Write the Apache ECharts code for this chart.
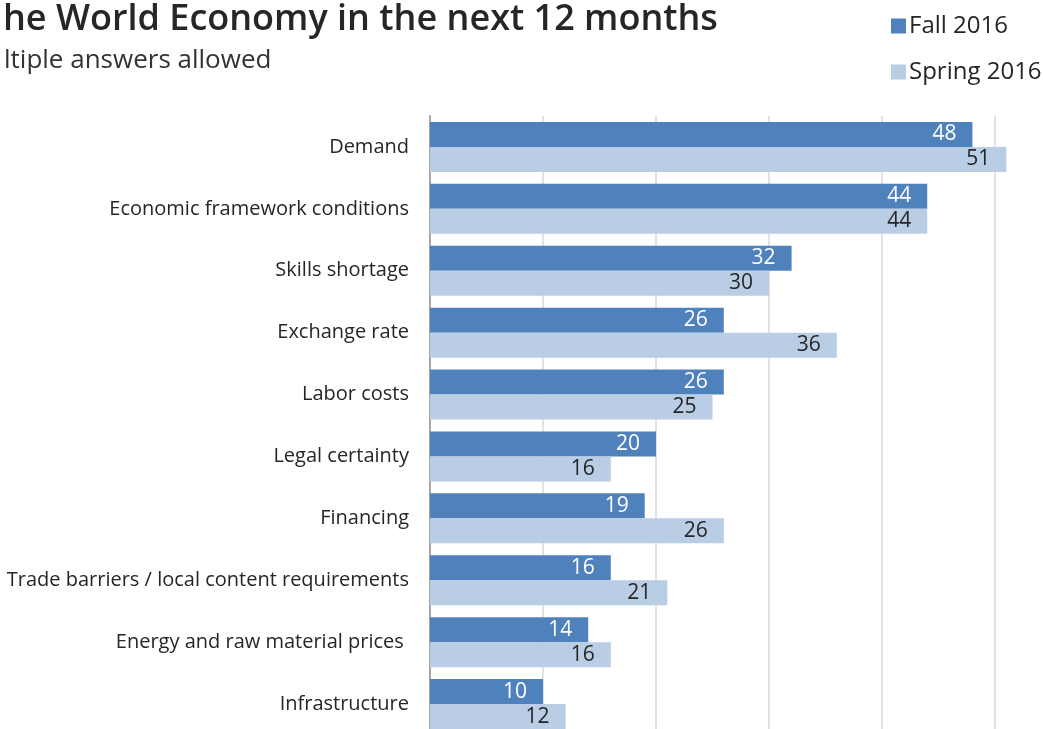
<!DOCTYPE html>
<html><head><meta charset="utf-8">
<script src="https://cdn.jsdelivr.net/npm/echarts@6/dist/echarts.min.js"></script>
<style>html,body{margin:0;padding:0;background:#fff}#c{width:1043px;height:729px}</style>
</head><body><div id="c"></div>
<script>
const categories = ["Demand","Economic framework conditions","Skills shortage","Exchange rate","Labor costs","Legal certainty","Financing","Trade barriers / local content requirements","Energy and raw material prices ","Infrastructure"];
const fall2016 = [48,44,32,26,26,20,19,16,14,10];
const spring2016 = [51,44,30,36,25,16,26,21,16,12];
const seriesNames = ["Fall 2016","Spring 2016"];
const titleText = "he World Economy in the next 12 months";
const subtitleText = "ltiple answers allowed";

const FONT = "Open Sans";
const chart = echarts.init(document.getElementById('c'), null, {renderer:'canvas'});
chart.setOption({
  animation:false,
  textStyle:{fontFamily:FONT},
  title:[
    {text:titleText,left:-2,top:-3,textStyle:{fontFamily:FONT,fontSize:36,fontWeight:600,color:'#262626'}},
    {text:subtitleText,left:-1,top:43,textStyle:{fontFamily:FONT,fontSize:26,fontWeight:'normal',color:'#333333'}}
  ],
  legend:{orient:'vertical',left:886,top:9,itemWidth:15,itemHeight:15,itemGap:22,icon:'rect',
    textStyle:{fontFamily:FONT,fontSize:24,color:'#262626',padding:[0,0,0,-2]},data:seriesNames},
  grid:{left:430,width:678,top:116,bottom:-6,containLabel:false,outerBoundsMode:'none'},
  xAxis:{type:'value',min:0,max:60,interval:10,axisLabel:{show:false},axisLine:{show:false},axisTick:{show:false},
    splitLine:{show:true,lineStyle:{color:'#d9d9d9',width:1.5}}},
  yAxis:{type:'category',inverse:true,data:categories,axisTick:{show:false},
    axisLine:{show:true,lineStyle:{color:'#a6a6a6',width:2}},
    axisLabel:{margin:21,fontFamily:FONT,fontSize:20,color:'#262626'}},
  series:[
    {name:seriesNames[0],type:'bar',data:fall2016,barWidth:25,barGap:'0%',itemStyle:{color:'#4f81bd'},
      label:{show:true,position:'insideRight',distance:16,color:'#ffffff',fontFamily:FONT,fontSize:21}},
    {name:seriesNames[1],type:'bar',data:spring2016,barWidth:25,barGap:'0%',itemStyle:{color:'#b9cde5'},
      label:{show:true,position:'insideRight',distance:16,color:'#262626',fontFamily:FONT,fontSize:21}}
  ]
});
</script></body></html>
